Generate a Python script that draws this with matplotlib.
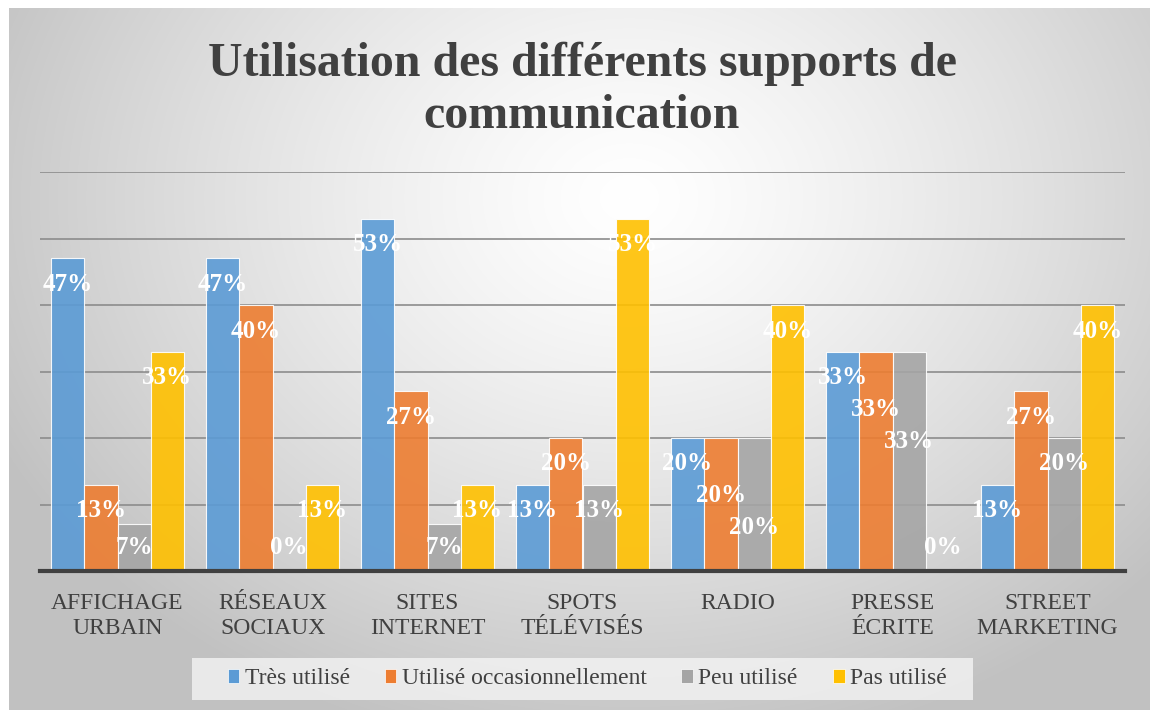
import numpy as np
import matplotlib
matplotlib.use("Agg")
import matplotlib.pyplot as plt
from matplotlib.patches import Patch, Rectangle

categories = ["AFFICHAGE\nURBAIN", "RÉSEAUX\nSOCIAUX", "SITES\nINTERNET", "SPOTS\nTÉLÉVISÉS",
              "RADIO", "PRESSE\nÉCRITE", "STREET\nMARKETING"]
series_names = ["Très utilisé", "Utilisé occasionnellement", "Peu utilisé", "Pas utilisé"]
tres = [47, 47, 53, 13, 20, 33, 13]
occas = [13, 40, 27, 20, 20, 33, 27]
peu = [7, 0, 7, 13, 20, 33, 20]
pas = [33, 13, 13, 53, 40, 0, 40]
colors = ["#5b9bd5", "#ed7d31", "#a5a5a5", "#ffc000"]

plt.rcParams["font.family"] = ["Liberation Serif", "DejaVu Serif"]

fig = plt.figure(figsize=(11.5, 7.1), dpi=100)

# fond en dégradé radial
bg = fig.add_axes([9 / 1150, 0, 1 - 9 / 1150, 1 - 8 / 710], zorder=-10)
h, w = 702, 1141
yy, xx = np.mgrid[0:h, 0:w]
d = np.sqrt(((xx - 620) / 700.0) ** 2 + ((yy - 190) / 560.0) ** 2)
d = np.clip(d, 0, 1)
val = 1.0 - 0.24 * d ** 1.3
bg.imshow(np.dstack([val, val, val]), aspect="auto", extent=[0, 1, 0, 1], interpolation="bilinear")
bg.set_axis_off()

ax_h = 399
ax = fig.add_axes([40 / 1150, 1 - 571 / 710, 1085 / 1150, ax_h / 710])
ax.patch.set_alpha(0)
ymax = 0.6
px = ax_h / ymax  # pixels par unité

x = np.arange(len(categories))
width = 0.215
data = [tres, occas, peu, pas]
for i, (vals, c, name) in enumerate(zip(data, colors, series_names)):
    ax.bar(x + (i - 1.5) * width, [v / 100 for v in vals], width, color=c, edgecolor="white",
           linewidth=0.8, alpha=0.9, label=name, zorder=3)

# étiquettes "intérieur haut", décalées quand deux barres voisines ont la même hauteur
for j in range(len(categories)):
    prev_v, prev_y = None, None
    for i, vals in enumerate(data):
        v = vals[j]
        y = max(v / 100 * px - 26, 24)
        if prev_v is not None and v == prev_v and v > 0:
            y = max(prev_y - 32, 24)
        ax.text(x[j] + (i - 1.5) * width, y / px, f"{v}%", ha="center", va="center", color="white",
                fontsize=18, fontweight="bold", zorder=5)
        prev_v, prev_y = v, y

ax.set_xlim(-0.5, len(categories) - 0.5)
ax.set_ylim(0, ymax)
ax.set_yticks(np.arange(0.1, 0.61, 0.1))
ax.yaxis.grid(True, color="#8c8c8c", linewidth=1.2, zorder=0)
ax.tick_params(axis="y", length=0, labelleft=False)
ax.set_xticks(x)
ax.set_xticklabels(categories, fontsize=17, color="#404040", linespacing=1.25)
ax.tick_params(axis="x", length=0, pad=16)
for s in ["top", "right", "left"]:
    ax.spines[s].set_visible(False)
ax.spines["bottom"].set_color("#404040")
ax.spines["bottom"].set_linewidth(3)
ax.spines["bottom"].set_zorder(6)

fig.text(582 / 1150, 1 - 90 / 710, "Utilisation des différents supports de\ncommunication", ha="center",
         va="center", fontsize=34.5, fontweight="bold", color="#404040", linespacing=1.22)

# cadre de la légende
fig.patches.append(Rectangle((192 / 1150, 1 - 700 / 710), 781 / 1150, 42 / 710, transform=fig.transFigure,
                             facecolor="#f4f4f4", edgecolor="none", alpha=0.8, zorder=1))
handles = [Patch(facecolor=c, edgecolor="white", linewidth=0.5) for c in colors]
leg = fig.legend(handles, series_names, loc="center", bbox_to_anchor=(587 / 1150, 1 - 679 / 710), ncol=4,
                 fontsize=17, frameon=False, handlelength=0.5, handleheight=0.55, handletextpad=0.22,
                 columnspacing=1.48, borderpad=0.2, labelcolor="#404040")

fig.savefig("out.png", dpi=100)
